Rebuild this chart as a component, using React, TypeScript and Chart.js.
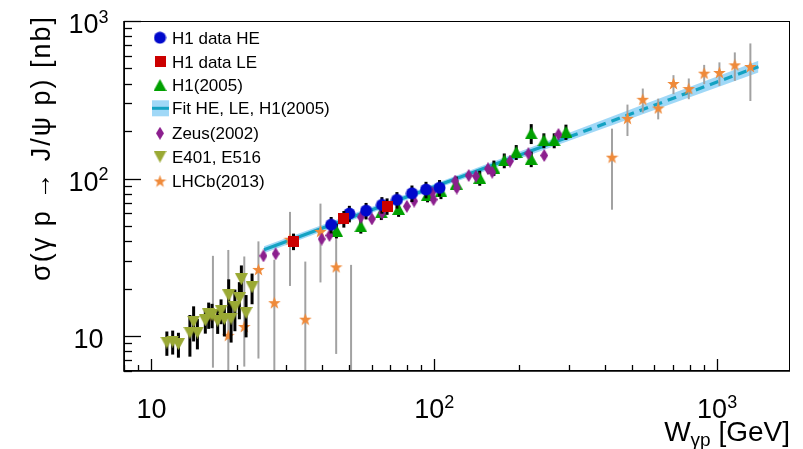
import React, { useEffect, useRef } from 'react';
import { Chart, registerables } from 'chart.js';

Chart.register(...registerables);

// ---------------- data ----------------
const heW = [43.2, 50.1, 57.4, 65.3, 73.8, 83.4, 93.5, 104.4];
const heSigma = [50.9, 59.9, 62.5, 68.0, 73.2, 80.6, 85.1, 87.3];
const heErr = [6.1, 7.2, 7.5, 8.2, 8.8, 9.7, 10.2, 10.5];

const leW = [31.8, 47.9, 68.1];
const leSigma = [39.9, 55.5, 66.8];
const leErr = [4.8, 6.7, 8.0];

const h105W = [45.1, 55.0, 65.0, 74.8, 94.7, 105.6, 119.6, 144.8, 162.5, 176.8, 194.9, 220.2, 220.2, 244.1, 265.5, 292.1];
const h105Sigma = [46.7, 49.7, 61.0, 64.1, 79.1, 83.0, 92.9, 101.0, 117.0, 130.2, 147.1, 193.5, 133.1, 174.6, 174.6, 197.8];
const h105Err = [5, 5, 6.5, 7, 8.5, 9, 10, 11, 13, 14, 16, 28, 15, 19, 19, 22];

const zeusW = [24.9, 27.5, 40.0, 42.6, 55.0, 60.2, 65.4, 80.0, 84.9, 99.4, 98.4, 118.6, 120.1, 132.4, 140.4, 154.8, 160.3, 185.2, 215.2, 244.7, 274.8];
const zeusSigma = [32.3, 33.3, 41.3, 43.5, 56.9, 55.4, 60.4, 66.6, 71.9, 73.5, 81.4, 96.4, 87.0, 104.5, 103.4, 115.3, 109.7, 128.9, 143.9, 140.1, 190.6];

const e401W = [11.34, 11.89, 12.46, 13.68, 14.1, 14.54, 15.51, 15.94, 16.38, 17.15, 17.63, 18.11, 18.76, 19.13, 19.73, 20.46, 20.8, 21.61, 22.69];
const e401Sigma = [9.09, 9.23, 8.89, 10.5, 12.34, 10.53, 12.56, 13.71, 13.61, 12.52, 14.49, 12.84, 18.11, 12.89, 15.23, 17.38, 22.97, 14.01, 20.42];
const e401Err = [1.6, 1.6, 1.6, 3.1, 3.1, 2.3, 2.2, 2.6, 2.4, 2.2, 2.6, 2.9, 4.8, 3.8, 4.5, 4.6, 5.1, 4.2, 4.5];

const lhcbW = [16.5, 18.7, 21.3, 23.9, 27.2, 30.9, 35.0, 39.6, 45.0, 50.8, 425, 482, 546, 619, 701, 794, 900, 1019, 1155, 1311];
const lhcbSigma = [13.4, 10.1, 11.5, 26.5, 16.3, 41.2, 12.8, 46.2, 27.5, 4.0, 136.7, 241.1, 318.6, 280.4, 401.1, 372.7, 466.5, 471.3, 526.8, 514.5];
const lhcbErrLo = [7.1, 25.1, 5.1, 19.3, 14.2, 20.4, 16.9, 24.3, 19.8, 24.3, 73.3, 55, 56.5, 43, 58, 54, 69, 84, 110, 204];
const lhcbErrHi = [18.9, 25.1, 20.5, 13.4, 14.2, 20.2, 16.9, 23.1, 19.8, 24.3, 70.6, 53.6, 54, 41, 52, 59, 60, 75, 105, 206];

const fitW = [25, 300];
const fitSigma = [35.3, 184];
const fitExtW = [300, 1400];
const fitExtSigma = [184, 513];
const bandW = [25, 100, 300, 1400];
const bandHi = [37.1, 92.2, 195, 559];
const bandLo = [33.6, 85.3, 173.6, 471];

const xTickValues = [10, 100, 1000];
const xTickLabels = ['10', '10^2', '10^3'];
const yTickValues = [10, 100, 1000];
const yTickLabels = ['10', '10^2', '10^3'];

const legendLabels = ['H1 data HE', 'H1 data LE', 'H1(2005)', 'Fit HE, LE, H1(2005)', 'Zeus(2002)', 'E401, E516', 'LHCb(2013)'];

const X_MIN = 8, X_MAX = 1810, Y_MIN = 6, Y_MAX = 1000;

// ---------------- styles ----------------
const FONT = '"Liberation Sans", Arial, Helvetica, sans-serif';
const C_BLUE = '#0008cc';
const C_RED = '#cc0000';
const C_GREEN = '#00a000';
const C_PURPLE = '#8c1f8e';
const C_OLIVE = '#9aa934';
const C_ORANGE = '#ef8a3a';
const C_TEAL = '#14a2c2';
const C_BAND = 'rgba(150,212,246,0.9)';

function makeMarker(kind: string, color: string): HTMLCanvasElement {
  const c = document.createElement('canvas');
  let w = 13, h = 13;
  if (kind === 'diamond') { w = 8; h = 13; }
  if (kind === 'square') { w = 11; h = 11; }
  if (kind === 'up' || kind === 'down') { w = 13; h = 12; }
  c.width = w; c.height = h;
  const g = c.getContext('2d')!;
  g.fillStyle = color;
  g.beginPath();
  if (kind === 'circle') g.arc(w / 2, h / 2, 6, 0, Math.PI * 2);
  else if (kind === 'square') g.rect(0, 0, w, h);
  else if (kind === 'up') { g.moveTo(w / 2, 0); g.lineTo(w, h); g.lineTo(0, h); g.closePath(); }
  else if (kind === 'down') { g.moveTo(0, 0); g.lineTo(w, 0); g.lineTo(w / 2, h); g.closePath(); }
  else if (kind === 'diamond') { g.moveTo(w / 2, 0); g.lineTo(w, h / 2); g.lineTo(w / 2, h); g.lineTo(0, h / 2); g.closePath(); }
  else if (kind === 'star') {
    const cx = w / 2, cy = h / 2 + 0.6, R = 6.6, r = 2.7;
    for (let k = 0; k < 10; k++) {
      const a = -Math.PI / 2 + (k * Math.PI) / 5;
      const rr = k % 2 === 0 ? R : r;
      const px = cx + rr * Math.cos(a), py = cy + rr * Math.sin(a);
      if (k === 0) g.moveTo(px, py); else g.lineTo(px, py);
    }
    g.closePath();
  }
  g.fill();
  return c;
}

const pts = (xs: number[], ys: number[]) => xs.map((x, i) => ({ x, y: ys[i] }));

function drawPowLabel(ctx: CanvasRenderingContext2D, label: string, cx: number, baseline: number, fs: number) {
  const [base, exp] = label.split('^');
  ctx.font = `${fs}px ${FONT}`;
  const wb = ctx.measureText(base).width;
  const sfs = Math.round(fs * 0.66);
  let we = 0;
  if (exp) { ctx.font = `${sfs}px ${FONT}`; we = ctx.measureText(exp).width; }
  const x0 = cx - (wb + we) / 2;
  ctx.textAlign = 'left';
  ctx.textBaseline = 'alphabetic';
  ctx.font = `${fs}px ${FONT}`;
  ctx.fillText(base, x0, baseline);
  if (exp) { ctx.font = `${sfs}px ${FONT}`; ctx.fillText(exp, x0 + wb, baseline - fs * 0.38); }
}

const errorBarPlugin = {
  id: 'errorBars',
  beforeDatasetDraw(chart: any, args: any) {
    const ds = chart.data.datasets[args.index];
    if (!ds.errLo) return;
    const { ctx, chartArea: ca } = chart;
    const xs = chart.scales.x, ys = chart.scales.y;
    ctx.save();
    ctx.beginPath();
    ctx.rect(ca.left, ca.top, ca.right - ca.left, ca.bottom - ca.top);
    ctx.clip();
    ctx.strokeStyle = ds.errColor;
    ctx.lineWidth = ds.errWidth;
    ds.data.forEach((p: any, i: number) => {
      const lo = p.y - ds.errLo[i];
      const hi = p.y + ds.errHi[i];
      const x = xs.getPixelForValue(p.x);
      const yTop = ys.getPixelForValue(hi);
      const yBot = lo > 0 ? Math.min(ys.getPixelForValue(lo), ca.bottom + 5) : ca.bottom + 5;
      ctx.beginPath();
      ctx.moveTo(x, yTop);
      ctx.lineTo(x, yBot);
      ctx.stroke();
    });
    ctx.restore();
  },
};

function logTicks(min: number, max: number) {
  const out: { v: number; major: boolean }[] = [];
  for (let d = Math.floor(Math.log10(min)); d <= Math.ceil(Math.log10(max)); d++) {
    for (let m = 1; m <= 9; m++) {
      const v = m * Math.pow(10, d);
      if (v >= min && v <= max) out.push({ v, major: m === 1 });
    }
  }
  return out;
}

const axesPlugin = {
  id: 'rootAxes',
  afterDatasetsDraw(chart: any) {
    const { ctx, chartArea: ca } = chart;
    const xs = chart.scales.x, ys = chart.scales.y;
    ctx.save();
    ctx.strokeStyle = '#000';
    ctx.lineWidth = 1;
    ctx.strokeRect(ca.left + 0.5, ca.top + 0.5, ca.right - ca.left - 1, ca.bottom - ca.top - 1);
    ctx.lineWidth = 1.6;
    ctx.beginPath();
    ctx.moveTo(ca.left, ca.top);
    ctx.lineTo(ca.left, ca.bottom);
    ctx.lineTo(ca.right, ca.bottom);
    ctx.stroke();
    ctx.lineWidth = 1.3;
    for (const t of logTicks(X_MIN, X_MAX)) {
      const x = Math.round(xs.getPixelForValue(t.v)) + 0.5;
      ctx.beginPath();
      ctx.moveTo(x, ca.bottom);
      ctx.lineTo(x, ca.bottom - (t.major ? 12 : 6));
      ctx.stroke();
    }
    for (const t of logTicks(Y_MIN, Y_MAX)) {
      const y = Math.round(ys.getPixelForValue(t.v)) + 0.5;
      ctx.beginPath();
      ctx.moveTo(ca.left, y);
      ctx.lineTo(ca.left + (t.major ? 17 : 8), y);
      ctx.stroke();
    }
    ctx.fillStyle = '#000';
    xTickValues.forEach((v, i) => {
      drawPowLabel(ctx, xTickLabels[i], xs.getPixelForValue(v), 418, 27);
    });
    yTickValues.forEach((v, i) => {
      drawPowLabel(ctx, yTickLabels[i], 88.5, ys.getPixelForValue(v) + 12, 27);
    });
    // x title
    const fs = 28, sfs = 19;
    ctx.textBaseline = 'alphabetic';
    ctx.textAlign = 'left';
    ctx.font = `${fs}px ${FONT}`;
    const wW = ctx.measureText('W').width;
    const wRest = ctx.measureText(' [GeV]').width;
    ctx.font = `${sfs}px ${FONT}`;
    const wSub = ctx.measureText('γp').width;
    const x0 = ca.right - (wW + wSub + wRest);
    const bl = 441;
    ctx.font = `${fs}px ${FONT}`;
    ctx.fillText('W', x0, bl);
    ctx.font = `${sfs}px ${FONT}`;
    ctx.fillText('γp', x0 + wW, bl + 5);
    ctx.font = `${fs}px ${FONT}`;
    ctx.fillText(' [GeV]', x0 + wW + wSub, bl);
    // y title
    ctx.save();
    ctx.translate(50, 15);
    ctx.rotate(-Math.PI / 2);
    ctx.font = `27px ${FONT}`;
    ctx.textAlign = 'right';
    try { (ctx as any).letterSpacing = '2px'; } catch (e) { /* ignore */ }
    ctx.fillText('σ(γ p → J/ψ p) [nb]', 0, 0);
    try { (ctx as any).letterSpacing = '0px'; } catch (e) { /* ignore */ }
    ctx.restore();
    ctx.restore();
  },
  afterDraw(chart: any) {
    const markers = chart.$markers;
    if (!markers) return;
    const { ctx } = chart;
    ctx.save();
    const ys = [37.7, 61.7, 85, 108.3, 133.3, 156.7, 181];
    const mx = 160;
    legendLabels.forEach((label, i) => {
      const y = ys[i];
      if (i === 3) {
        ctx.fillStyle = C_BAND;
        ctx.fillRect(152, y - 8, 17, 16);
        ctx.strokeStyle = C_TEAL;
        ctx.lineWidth = 3;
        ctx.beginPath();
        ctx.moveTo(152, y);
        ctx.lineTo(169, y);
        ctx.stroke();
      } else {
        const m = markers[i];
        ctx.drawImage(m, mx - m.width / 2, y - m.height / 2);
      }
      ctx.fillStyle = '#000';
      ctx.font = `17px ${FONT}`;
      ctx.textAlign = 'left';
      ctx.textBaseline = 'alphabetic';
      ctx.fillText(label, 172, y + 6);
    });
    ctx.restore();
  },
};

export default function App() {
  const ref = useRef<HTMLCanvasElement | null>(null);
  useEffect(() => {
    if (!ref.current) return;
    const mCircle = makeMarker('circle', C_BLUE);
    const mSquare = makeMarker('square', C_RED);
    const mUp = makeMarker('up', C_GREEN);
    const mDiamond = makeMarker('diamond', C_PURPLE);
    const mDown = makeMarker('down', C_OLIVE);
    const mStar = makeMarker('star', C_ORANGE);

    const chart = new Chart(ref.current, {
      type: 'line',
      data: {
        datasets: [
          { label: 'bandHi', data: pts(bandW, bandHi), borderWidth: 0, pointRadius: 0, fill: '+1', backgroundColor: C_BAND, order: 9 } as any,
          { label: 'bandLo', data: pts(bandW, bandLo), borderWidth: 0, pointRadius: 0, fill: false, order: 10 } as any,
          { label: 'fit', data: pts(fitW, fitSigma), borderColor: C_TEAL, borderWidth: 3.2, pointRadius: 0, fill: false, order: 8 } as any,
          { label: 'fitExt', data: pts(fitExtW, fitExtSigma), borderColor: C_TEAL, borderWidth: 3.2, borderDash: [9, 6], pointRadius: 0, fill: false, order: 8 } as any,
          { label: 'LHCb(2013)', data: pts(lhcbW, lhcbSigma), showLine: false, pointStyle: mStar, pointRadius: 6, errLo: lhcbErrLo, errHi: lhcbErrHi, errColor: '#a2a2a2', errWidth: 2, order: 6 } as any,
          { label: 'E401, E516', data: pts(e401W, e401Sigma), showLine: false, pointStyle: mDown, pointRadius: 6, errLo: e401Err, errHi: e401Err, errColor: '#000', errWidth: 3, order: 5 } as any,
          { label: 'H1(2005)', data: pts(h105W, h105Sigma), showLine: false, pointStyle: mUp, pointRadius: 6, errLo: h105Err, errHi: h105Err, errColor: '#000', errWidth: 3, order: 4 } as any,
          { label: 'Zeus(2002)', data: pts(zeusW, zeusSigma), showLine: false, pointStyle: mDiamond, pointRadius: 6, order: 3 } as any,
          { label: 'H1 data HE', data: pts(heW, heSigma), showLine: false, pointStyle: mCircle, pointRadius: 6, errLo: heErr, errHi: heErr, errColor: '#000', errWidth: 3, order: 2 } as any,
          { label: 'H1 data LE', data: pts(leW, leSigma), showLine: false, pointStyle: mSquare, pointRadius: 6, errLo: leErr, errHi: leErr, errColor: '#000', errWidth: 3, order: 1 } as any,
        ],
      },
      options: {
        animation: false,
        responsive: false,
        events: [],
        layout: { padding: { left: 124, right: 13, top: 21, bottom: 78 } },
        scales: {
          x: { type: 'logarithmic', min: X_MIN, max: X_MAX, display: false },
          y: { type: 'logarithmic', min: Y_MIN, max: Y_MAX, display: false },
        },
        plugins: { legend: { display: false }, tooltip: { enabled: false } },
      },
      plugins: [errorBarPlugin, axesPlugin],
    } as any);
    (chart as any).$markers = [mCircle, mSquare, mUp, null, mDiamond, mDown, mStar];
    chart.draw();
    return () => chart.destroy();
  }, []);

  return (
    <div style={{ position: 'fixed', left: 0, top: 0, width: 803, height: 449, background: '#fff' }}>
      <canvas ref={ref} width={803} height={449} style={{ width: 803, height: 449, display: 'block' }} />
    </div>
  );
}
